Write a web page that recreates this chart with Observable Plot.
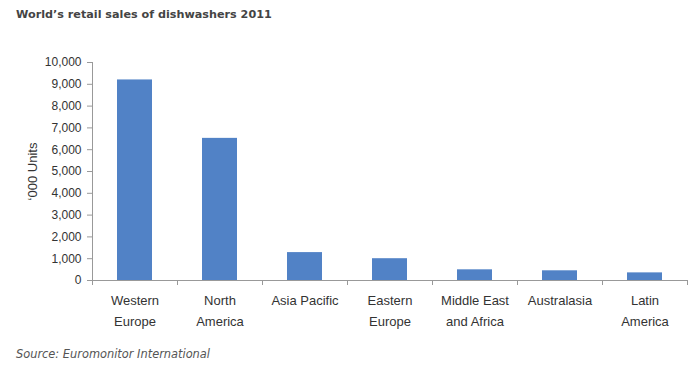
<!DOCTYPE html>
<html>
<head>
<meta charset="utf-8">
<script src="https://cdn.jsdelivr.net/npm/d3@7"></script>
<script src="https://cdn.jsdelivr.net/npm/@observablehq/plot@0.6"></script>
<style>
  html, body { margin: 0; padding: 0; background: #fff; }
  #wrap { position: relative; width: 700px; height: 370px; overflow: hidden; }
  #title { position: absolute; left: 16px; top: 8px; font: bold 11.2px "DejaVu Sans", Verdana, sans-serif; color: #444; white-space: nowrap; }
  #source { position: absolute; left: 16px; top: 347px; font: italic 11.4px "DejaVu Sans", Verdana, sans-serif; color: #555; white-space: nowrap; }
  #chart { position: absolute; left: 0; top: 0; }
</style>
</head>
<body>
<div id="wrap">
  <div id="chart"></div>
  <div id="title">World’s retail sales of dishwashers 2011</div>
  <div id="source">Source: Euromonitor International</div>
</div>
<script>
const regions = ["Western Europe", "North America", "Asia Pacific", "Eastern Europe", "Middle East and Africa", "Australasia", "Latin America"];
const sales = [9200, 6520, 1280, 1000, 490, 445, 350];
const tickLabels = ["Western\nEurope", "North\nAmerica", "Asia Pacific", "Eastern\nEurope", "Middle East\nand Africa", "Australasia", "Latin\nAmerica"];
const yTicks = [0, 1000, 2000, 3000, 4000, 5000, 6000, 7000, 8000, 9000, 10000];

const data = regions.map((r, i) => ({region: r, value: sales[i], label: tickLabels[i]}));
const step = (700 - 92 - 13) / regions.length;

const plot = Plot.plot({
  width: 700,
  height: 370,
  marginLeft: 92,
  marginRight: 13,
  marginTop: 62,
  marginBottom: 90,
  style: { fontFamily: "'Liberation Sans', Arial, sans-serif", color: "#333", background: "transparent" },
  x: { domain: regions, paddingInner: 0.59, paddingOuter: 0.295, axis: null },
  y: { domain: [0, 10000], axis: null },
  marks: [
    Plot.barY(data, { x: "region", y: "value", fill: "#5182c6" }),
    Plot.ruleY([0], { stroke: "#999", strokeWidth: 1 }),
    Plot.ruleX([0], { x: () => regions[0], y1: 0, y2: 10000, dx: -step / 2, stroke: "#999" }),
    Plot.ruleX(regions, { x: d => d, y1: 0, y2: 0, dx: -step / 2, insetBottom: -5, stroke: "#999" }),
    Plot.ruleX([regions[regions.length - 1]], { x: d => d, y1: 0, y2: 0, dx: step / 2, insetBottom: -5, stroke: "#999" }),
    Plot.axisY({ ticks: yTicks, tickFormat: d3.format(","), tickSize: 5, tickPadding: 6, stroke: "#999", fontSize: 12, color: "#333", label: null }),
    Plot.axisY({ ticks: [], tickSize: 0, fontSize: 13, color: "#333",
      label: "‘000 Units", labelAnchor: "center", labelArrow: "none", labelOffset: 65 }),
    Plot.text(data, { x: "region", y: 0, text: "label", lineAnchor: "top", dy: 10, lineHeight: 1.6, fontSize: 13, fill: "#333" })
  ]
});
document.getElementById("chart").appendChild(plot);
</script>
</body>
</html>
